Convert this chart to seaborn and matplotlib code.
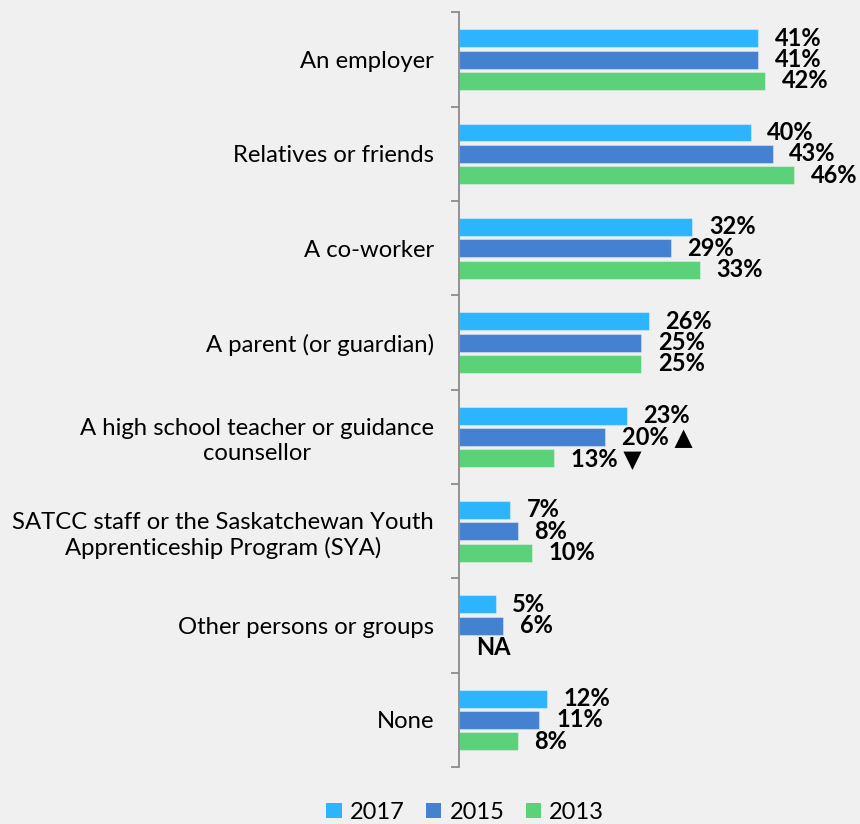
import pandas as pd
import seaborn as sns
import matplotlib.pyplot as plt
from matplotlib.patches import Patch

# data
categories = [
    "An employer",
    "Relatives or friends",
    "A co-worker",
    "A parent (or guardian)",
    "A high school teacher or guidance\ncounsellor",
    "SATCC staff or the Saskatchewan Youth\nApprenticeship Program (SYA)",
    "Other persons or groups",
    "None",
]
years = ["2017", "2015", "2013"]
v2017 = [41, 40, 32, 26, 23, 7, 5, 12]
v2015 = [41, 43, 29, 25, 20, 8, 6, 11]
v2013 = [42, 46, 33, 25, 13, 10, None, 8]
# significant change markers
marks2017 = ["", "", "", "", "", "", "", ""]
marks2015 = ["", "", "", "", "▲", "", "", ""]
marks2013 = ["", "", "", "", "▼", "", "", ""]
colors = ["#2db4ff", "#4481d0", "#5bd17a"]
bg = "#f0f0f0"

df = pd.DataFrame({
    "category": categories * 3,
    "year": [y for y in years for _ in categories],
    "value": pd.to_numeric(pd.Series(v2017 + v2015 + v2013), errors="coerce"),
})
marks = {"2017": marks2017, "2015": marks2015, "2013": marks2013}

plt.rcParams["font.family"] = ["Lato", "DejaVu Sans"]

fig, ax = plt.subplots(figsize=(8.6, 8.24), dpi=100)
fig.patch.set_facecolor(bg)
ax.set_facecolor(bg)
fig.subplots_adjust(left=0.534, right=1.0, top=0.985, bottom=0.069)

sns.barplot(data=df, y="category", x="value", hue="year", hue_order=years,
            order=categories, palette=colors, saturation=1, orient="h",
            width=0.68, gap=0.16, edgecolor=(1, 1, 1, 0.35), linewidth=0.8,
            legend=False, ax=ax)

# value labels
offset13 = None
for year, cont in zip(years, ax.containers):
    for bar in cont:
        w = bar.get_width()
        yc = bar.get_y() + bar.get_height() / 2
        if pd.isna(w):
            continue
        idx = int(round(yc))
        if year == "2013" and offset13 is None:
            offset13 = yc - idx
        txt = f"{w:.0f}%"
        if marks[year][idx]:
            txt += " " + marks[year][idx]
        ax.annotate(txt, (w, yc), xytext=(12, 0), textcoords="offset points",
                    va="center", ha="left", fontsize=17, fontweight="bold")

for i, v in enumerate(v2013):
    if v is None:
        ax.annotate("NA", (0, i + offset13), xytext=(12, 0), textcoords="offset points",
                    va="center", ha="left", fontsize=17, fontweight="bold")

ax.set_xlim(0, 55)
ax.xaxis.set_visible(False)
for s in ["top", "right", "bottom"]:
    ax.spines[s].set_visible(False)
ax.spines["left"].set_color("#8c8c8c")
ax.spines["left"].set_linewidth(1.3)

ax.set_yticks([i - 0.5 for i in range(len(categories) + 1)])
ax.set_yticklabels([])
ax.set_yticks(range(len(categories)), labels=categories, minor=True)
ax.tick_params(axis="y", which="major", length=6, color="#8c8c8c", width=1.3)
ax.tick_params(axis="y", which="minor", length=0, pad=18, labelsize=17.2)
for t in ax.get_yticklabels(minor=True):
    t.set_multialignment("center")
    t.set_linespacing(1.25)
ax.set_ylim(len(categories) - 0.5, -0.5)
ax.set_ylabel("")

handles = [Patch(facecolor=c) for c in colors]
fig.legend(handles, years, loc="lower center", bbox_to_anchor=(0.541, 0.0), ncol=3,
           frameon=False, fontsize=17, handlelength=0.65, handleheight=0.65,
           handletextpad=0.35, columnspacing=0.9, borderaxespad=0, borderpad=0.05)

fig.savefig("out.png", dpi=100, facecolor=bg)
